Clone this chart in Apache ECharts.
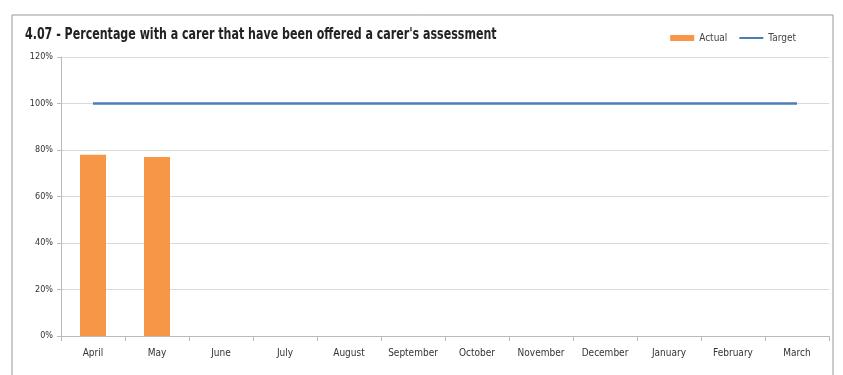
<!DOCTYPE html>
<html>
<head>
<meta charset="utf-8">
<script src="https://cdn.jsdelivr.net/npm/echarts@6/dist/echarts.min.js"></script>
<style>
  html, body { margin: 0; padding: 0; background: #fff; }
  #chart { width: 843px; height: 375px; }
</style>
</head>
<body>
<div id="chart"></div>
<script>
  // months of the year, April to March
  const months = ['April', 'May', 'June', 'July', 'August', 'September', 'October',
    'November', 'December', 'January', 'February', 'March']
  const actual = [78, 77, null, null, null, null, null, null, null, null, null, null]
  const target = [100, 100, 100, 100, 100, 100, 100, 100, 100, 100, 100, 100]

  const font = '"Liberation Sans Narrow", "DejaVu Sans Condensed", "Liberation Sans", sans-serif'

  const chart = echarts.init(document.getElementById('chart'))
  chart.setOption({
    animation: false,
    textStyle: {fontFamily: font},
    legend: {
      right: 42,
      top: 28,
      itemWidth: 24,
      itemHeight: 6,
      itemGap: 12,
      textStyle: {fontSize: 10, color: '#444', fontFamily: font},
      data: [
        {name: 'Actual', icon: 'rect'},
        {name: 'Target', icon: 'path://M0,0H24V2H0Z'}
      ]
    },
    grid: {left: 61, right: 14, top: 57, bottom: 39},
    xAxis: {
      type: 'category',
      data: months,
      axisLine: {lineStyle: {color: '#bbb'}},
      axisTick: {show: true, length: 5, lineStyle: {color: '#bbb'}},
      axisLabel: {interval: 0, fontSize: 10, color: '#333', margin: 12}
    },
    yAxis: {
      type: 'value',
      min: 0,
      max: 120,
      interval: 20,
      axisLine: {show: true, lineStyle: {color: '#bbb'}},
      axisTick: {show: true, length: 4, lineStyle: {color: '#bbb'}},
      axisLabel: {fontSize: 9, color: '#333', formatter: '{value}%', margin: 8},
      splitLine: {lineStyle: {color: '#d9d9d9'}}
    },
    series: [
      {
        name: 'Actual',
        type: 'bar',
        data: actual,
        barWidth: 26,
        itemStyle: {color: '#f79646'}
      },
      {
        name: 'Target',
        type: 'line',
        data: target,
        symbol: 'none',
        lineStyle: {color: '#4a7ebb', width: 2.5},
        itemStyle: {color: '#4a7ebb'}
      }
    ],
    graphic: [
      {
        type: 'rect',
        shape: {x: 12, y: 15, width: 821, height: 370},
        style: {fill: 'none', stroke: '#999', lineWidth: 1},
        silent: true
      },
      {
        // title, squeezed to the width of the original narrow font
        type: 'text',
        x: 25,
        y: 35,
        scaleX: 0.82,
        style: {
          text: "4.07 - Percentage with a carer that have been offered a carer's assessment",
          font: 'bold 15px ' + font,
          fill: '#222',
          textVerticalAlign: 'middle'
        }
      }
    ]
  })
</script>
</body>
</html>
